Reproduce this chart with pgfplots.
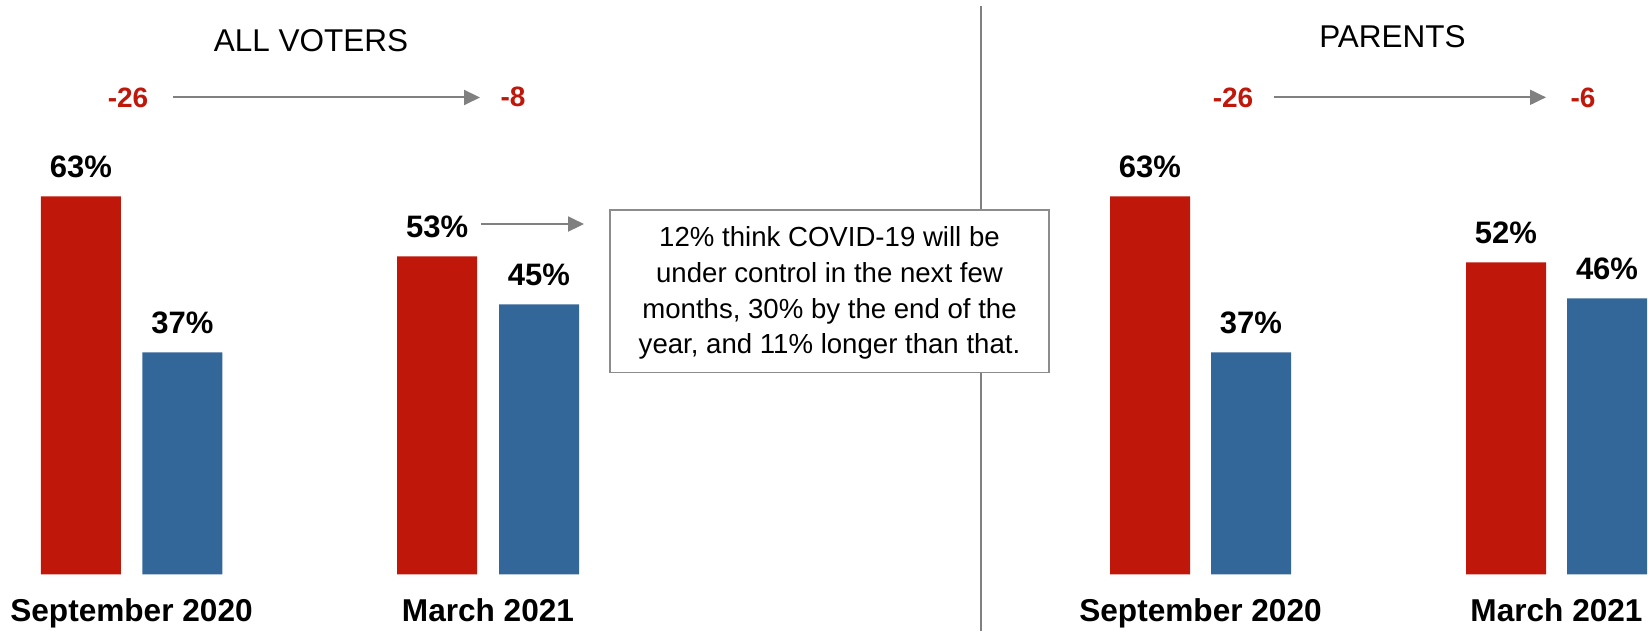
\documentclass[border=0pt]{standalone}
\usepackage{fontspec}
\setmainfont{Liberation Sans}
\usepackage{pgfplots}
\pgfplotsset{compat=1.18}
\usetikzlibrary{arrows.meta}

\definecolor{barred}{RGB}{192,23,11}
\definecolor{barblue}{RGB}{52,103,153}
\definecolor{arrgray}{RGB}{128,128,128}
\definecolor{boxgray}{RGB}{140,140,140}

\begin{document}
\begin{tikzpicture}
\begin{axis}[
    name=ax,
    scale only axis,
    width=824pt, height=315.5pt,
    xmin=0, xmax=1648,
    ymin=-9.45, ymax=95.72,
    clip=false,
    axis line style={draw=none},
    tick style={draw=none},
    major tick length=0pt,
    ytick=\empty,
    xtick={131.5,488,1200.5,1556.5},
    xticklabels={September 2020, March 2021, September 2020, March 2021},
    xticklabel style={anchor=base, yshift=4.65pt, inner sep=0pt,
        font=\fontsize{15.8pt}{18pt}\selectfont\bfseries},
    ybar, bar width=80, bar shift=0pt,
    nodes near coords={\pgfmathprintnumber[assume math mode=true]{\pgfplotspointmeta}\%},
    every node near coord/.append style={anchor=base, yshift=9.2pt, inner sep=0pt,
        text=black, font=\fontsize{15.5pt}{18pt}\selectfont\bfseries},
]
% red = first answer, blue = second answer
\addplot[draw=none, fill=barred] coordinates {(80.85,63) (437.2,53) (1150,63) (1506,52)};
\addplot[draw=none, fill=barblue] coordinates {(182.3,37) (539,45) (1251,37) (1607,46)};

% divider between the two panels
\draw[arrgray, line width=1pt] (axis cs:981,94.72) -- (axis cs:981,-9.45);

% panel titles
\node[anchor=base, inner sep=0pt, font=\fontsize{15.75pt}{18pt}\selectfont] at (axis cs:311,87.13) {ALL VOTERS};
\node[anchor=base, inner sep=0pt, font=\fontsize{15.75pt}{18pt}\selectfont] at (axis cs:1392.5,87.72) {PARENTS};

% net margins
\begin{scope}[every node/.style={anchor=base, inner sep=0pt, text=barred,
        font=\fontsize{14pt}{16pt}\selectfont\bfseries}]
\node at (axis cs:128,77.83) {-26};
\node at (axis cs:513,77.93) {-8};
\node at (axis cs:1233,77.72) {-26};
\node at (axis cs:1583,77.8) {-6};
\end{scope}
\draw[arrgray, line width=1pt, -{Triangle[length=8pt,width=7.5pt]}] (axis cs:173,79.47) -- (axis cs:480,79.47);
\draw[arrgray, line width=1pt, -{Triangle[length=8pt,width=7.5pt]}] (axis cs:1274,79.5) -- (axis cs:1546,79.5);
\draw[arrgray, line width=1pt, -{Triangle[length=8pt,width=7.5pt]}] (axis cs:480.7,58.38) -- (axis cs:584,58.38);

% callout box
\draw[boxgray, line width=0.75pt, fill=white] (axis cs:610,60.72) rectangle (axis cs:1049,33.6);
\node[align=center, inner sep=0pt, font=\fontsize{13.8pt}{17.9pt}\selectfont] at (axis cs:829.5,46.87)
    {12\% think COVID-19 will be\\under control in the next few\\months, 30\% by the end of the\\year, and 11\% longer than that.};
\end{axis}
\pgfresetboundingbox
\path (ax.south west) rectangle (ax.north east);
\end{tikzpicture}
\end{document}
